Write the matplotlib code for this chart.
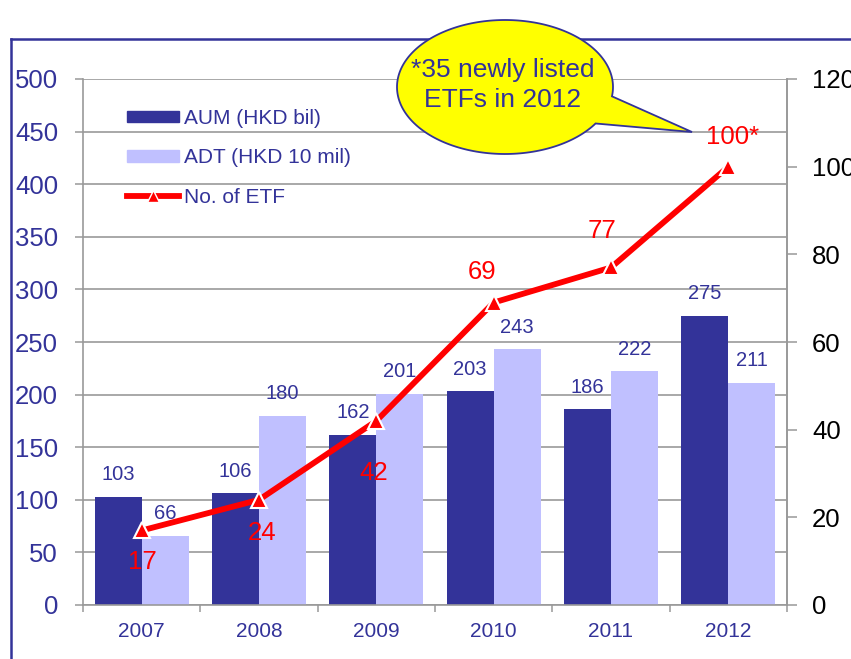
import numpy as np
import matplotlib
matplotlib.use("Agg")
import matplotlib.pyplot as plt
from matplotlib.patches import Patch, Polygon
from matplotlib.lines import Line2D
from matplotlib.transforms import IdentityTransform

plt.rcParams['font.family'] = ['Liberation Sans', 'DejaVu Sans']

# ---- data ----
years = ["2007", "2008", "2009", "2010", "2011", "2012"]
aum = [103, 106, 162, 203, 186, 275]          # AUM (HKD bil)
adt = [66, 180, 201, 243, 222, 211]           # ADT (HKD 10 mil)
etf = [17, 24, 42, 69, 77, 100]               # No. of ETF
etf_labels = ["17", "24", "42", "69", "77", "100*"]
left_ticks = list(range(0, 501, 50))
right_ticks = list(range(0, 121, 20))
callout_text = "*35 newly listed\nETFs in 2012"

# ---- style ----
W, H = 851, 659
NAVY = "#333399"
LILAC = "#C0C0FF"
RED = "#FF0000"
GRID = "#999999"
# label offsets for ETF labels (pixels: dx, dy up)
etf_off = [(1, -32), (3, -33), (-3, -52), (-12, 31), (-9, 36), (4, 30)]

fig = plt.figure(figsize=(W / 100, H / 100), dpi=100)

L, R, T, B = 83, 787, 79, 605
ax = fig.add_axes([L / W, 1 - B / H, (R - L) / W, (B - T) / H])
x = np.arange(len(years))
bw = 0.4
ax.bar(x - bw / 2, aum, width=bw, color=NAVY, zorder=2, label="AUM (HKD bil)")
ax.bar(x + bw / 2, adt, width=bw, color=LILAC, zorder=2, label="ADT (HKD 10 mil)")
ax.set_xlim(-0.5, len(years) - 0.5)
ax.set_ylim(0, 500)
ax.set_yticks(left_ticks)
ax.tick_params(axis='y', direction='out', length=6, width=1.1, color=GRID,
               labelcolor=NAVY, labelsize=18.5, pad=12)
ax.set_xticks(np.arange(-0.5, len(years), 1.0))
ax.set_xticklabels([])
ax.set_xticks(x, minor=True)
ax.set_xticklabels(years, minor=True)
ax.tick_params(axis='x', which='major', direction='out', length=5, width=1.1, color=GRID)
ax.tick_params(axis='x', which='minor', length=0, labelcolor=NAVY, labelsize=15, pad=12)
ax.yaxis.grid(True, color=GRID, linewidth=1.2, zorder=0)
ax.set_axisbelow(True)
ax.spines["top"].set_visible(False)
for s in ["left", "bottom", "right"]:
    ax.spines[s].set_color(GRID)
    ax.spines[s].set_linewidth(1.2)

for i in range(len(years)):
    ax.annotate(str(aum[i]), (x[i] - bw / 2, aum[i]), xytext=(0, 16), textcoords='offset points',
                ha='center', va='center', color=NAVY, fontsize=14.5, zorder=3)
    ax.annotate(str(adt[i]), (x[i] + bw / 2, adt[i]), xytext=(0, 16), textcoords='offset points',
                ha='center', va='center', color=NAVY, fontsize=14.5, zorder=3)

ax2 = ax.twinx()
ax2.set_ylim(0, 120)
ax2.set_yticks(right_ticks)
ax2.tick_params(axis='y', direction='out', length=7, width=1.1, color=GRID,
                labelcolor='black', labelsize=18.5, pad=11)
for s in ["top", "left", "bottom"]:
    ax2.spines[s].set_visible(False)
ax2.spines["right"].set_color(GRID)
ax2.spines["right"].set_linewidth(1.2)
ax2.plot(x, etf, color=RED, linewidth=4.2, marker='^', markersize=11,
         markerfacecolor=RED, markeredgecolor='white', markeredgewidth=1.5, zorder=5,
         label="No. of ETF")
for i in range(len(years)):
    dx, dy = etf_off[i]
    ax2.annotate(etf_labels[i], (x[i], etf[i]), xytext=(dx * 0.72, dy * 0.72),
                 textcoords='offset points', ha='center', va='center',
                 color=RED, fontsize=18.5, zorder=6)

handles = [Patch(color=NAVY, label="AUM (HKD bil)"),
           Patch(color=LILAC, label="ADT (HKD 10 mil)"),
           Line2D([], [], color=RED, linewidth=4.2, marker='^', markersize=8,
                  markerfacecolor=RED, markeredgecolor='white', markeredgewidth=1.0,
                  label="No. of ETF")]
leg = fig.legend(handles=handles, loc='upper left', bbox_to_anchor=(127 / W, 1 - 109 / H),
                 bbox_transform=fig.transFigure, frameon=False, fontsize=15,
                 handlelength=2.5, handleheight=0.48, handletextpad=0.25,
                 labelspacing=0.98, borderpad=0, borderaxespad=0)
for t in leg.get_texts():
    t.set_color(NAVY)

# ---- outer frame ----
fig.add_artist(Line2D([11 / W, 1.0], [1 - 39 / H, 1 - 39 / H], color=NAVY, linewidth=1.8,
                      transform=fig.transFigure, zorder=1))
fig.add_artist(Line2D([11 / W, 11 / W], [1 - 39 / H, 0], color=NAVY, linewidth=1.8,
                      transform=fig.transFigure, zorder=1))

# ---- callout bubble ----
cx, cy, rx, ry = 505, 87, 108, 67
tip = (692, 132)
a1, a2 = np.deg2rad(-8), np.deg2rad(-33) + 2 * np.pi
th = np.linspace(a1, a2, 200)
ex = cx + rx * np.cos(th)
ey = cy - ry * np.sin(th)
pts = [tip] + list(zip(ex, ey))
pts = [(px, H - py) for px, py in pts]
bubble = Polygon(pts, closed=True, facecolor="#FFFF00", edgecolor=NAVY, linewidth=1.3,
                 transform=IdentityTransform(), zorder=10)
fig.add_artist(bubble)
fig.text(503 / W, 1 - 85 / H, callout_text, ha='center', va='center', color=NAVY,
         fontsize=19, linespacing=1.32, zorder=11)

fig.savefig("out.png", dpi=100)
